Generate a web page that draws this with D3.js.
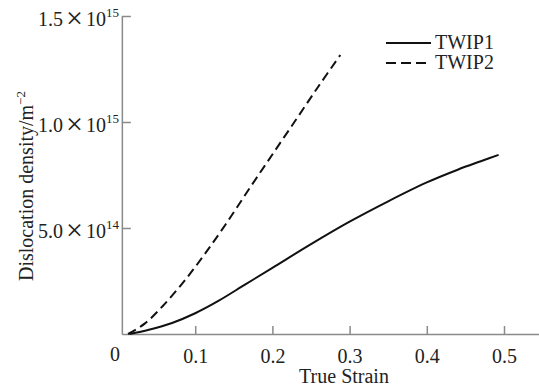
<!DOCTYPE html>
<html>
<head>
<meta charset="utf-8">
<script src="https://cdn.jsdelivr.net/npm/d3@7"></script>
<style>
  body { margin: 0; background: #fff; }
  text { font-family: "Liberation Serif", "Times New Roman", serif; fill: #222; }
</style>
</head>
<body>
<div id="chart"></div>
<script>
// Data
var twip1Strain  = [0.015, 0.04, 0.07, 0.1, 0.13, 0.165, 0.2, 0.25, 0.3, 0.35, 0.4, 0.44, 0.47, 0.493];
var twip1Density = [0, 0.02e15, 0.052e15, 0.098e15, 0.156e15, 0.234e15, 0.312e15, 0.424e15, 0.53e15, 0.626e15, 0.715e15, 0.775e15, 0.815e15, 0.845e15];

var twip2Strain  = [0.013, 0.035, 0.06, 0.087, 0.113, 0.14, 0.17, 0.2, 0.23, 0.26, 0.288];
var twip2Density = [0, 0.05e15, 0.14e15, 0.255e15, 0.38e15, 0.52e15, 0.685e15, 0.847e15, 1.008e15, 1.17e15, 1.316e15];

var xTicks = [0.1, 0.2, 0.3, 0.4, 0.5];
var yTicks = [0.5e15, 1.0e15, 1.5e15];
var yTickMantissa = ["5.0", "1.0", "1.5"];
var yTickExponent = ["14", "15", "15"];

var seriesNames = ["TWIP1", "TWIP2"];

var width = 539, height = 391;
var axisColor = "#8a8a8a";

var svg = d3.select("#chart").append("svg")
    .attr("width", width)
    .attr("height", height);

// Scales
var x = d3.scaleLinear().domain([0, 0.5]).range([118, 504]),
    y = d3.scaleLinear().domain([0, 1.5e15]).range([334, 16]);

// x axis spans a bit more than the data domain
var xAxisScale = x.copy().domain([0.005, 0.546]).range([x(0.005), x(0.546)]);

var xAxis = d3.axisBottom(xAxisScale)
    .tickValues(xTicks)
    .tickSizeInner(-8)
    .tickSizeOuter(0)
    .tickPadding(15)
    .tickFormat(d3.format(".1f"));

var gx = svg.append("g")
    .attr("transform", "translate(0," + y(0) + ")")
    .call(xAxis);

gx.selectAll("path, line").attr("stroke", axisColor).attr("stroke-width", 1.5);
gx.selectAll("text")
    .style("font-family", "Liberation Serif, serif")
    .style("font-size", "20px")
    .attr("fill", "#222");

// the lone zero label
svg.append("text")
    .attr("x", x(0) - 3)
    .attr("y", y(0) + 27)
    .attr("text-anchor", "middle")
    .style("font-size", "20px")
    .text("0");

// y axis
var yAxis = d3.axisLeft(y)
    .tickValues(yTicks)
    .tickSizeInner(-9)
    .tickSizeOuter(0)
    .tickFormat("");

var gy = svg.append("g")
    .attr("transform", "translate(" + xAxisScale(0.005) + ",0)")
    .call(yAxis);

gy.selectAll("path, line").attr("stroke", axisColor).attr("stroke-width", 1.5);

// y tick labels like 1.5×10^15
yTicks.forEach(function(v, i) {
    var t = svg.append("text")
        .attr("x", 119)
        .attr("y", y(v) + 10)
        .attr("text-anchor", "end")
        .style("font-size", "20px");
    t.append("tspan").text(yTickMantissa[i]);
    t.append("tspan").attr("dx", 3).attr("dy", 2).style("font-size", "30px").text("\u00d7");
    t.append("tspan").attr("dx", 3).attr("dy", -2).text("10");
    t.append("tspan").attr("dy", -9).style("font-size", "13px").text(yTickExponent[i]);
});

// axis titles
svg.append("text")
    .attr("x", 344)
    .attr("y", 383)
    .attr("text-anchor", "middle")
    .style("font-size", "20px")
    .text("True Strain");

var yTitle = svg.append("text")
    .attr("transform", "translate(33,186) rotate(-90)")
    .attr("text-anchor", "middle")
    .style("font-size", "20px");
yTitle.append("tspan").text("Dislocation density/m");
yTitle.append("tspan").attr("dy", -8).style("font-size", "13px").text("\u22122");

// curves
var line = d3.line()
    .x(function(d) { return x(d[0]); })
    .y(function(d) { return y(d[1]); })
    .curve(d3.curveCatmullRom.alpha(0.5));

var twip1 = d3.zip(twip1Strain, twip1Density),
    twip2 = d3.zip(twip2Strain, twip2Density);

svg.append("path")
    .datum(twip1)
    .attr("fill", "none")
    .attr("stroke", "#111")
    .attr("stroke-width", 2)
    .attr("d", line);

svg.append("path")
    .datum(twip2)
    .attr("fill", "none")
    .attr("stroke", "#111")
    .attr("stroke-width", 2)
    .style("stroke-dasharray", "9, 5")
    .attr("d", line);

// legend
var legend = svg.append("g").attr("transform", "translate(386,43)");
seriesNames.forEach(function(name, i) {
    legend.append("line")
        .attr("x1", 0).attr("x2", 45)
        .attr("y1", i * 20).attr("y2", i * 20)
        .attr("stroke", "#111")
        .attr("stroke-width", 2)
        .style("stroke-dasharray", i === 1 ? "10, 5" : null);
    legend.append("text")
        .attr("x", 49)
        .attr("y", i * 20 + 6)
        .style("font-size", "20px")
        .text(name);
});
</script>
</body>
</html>
